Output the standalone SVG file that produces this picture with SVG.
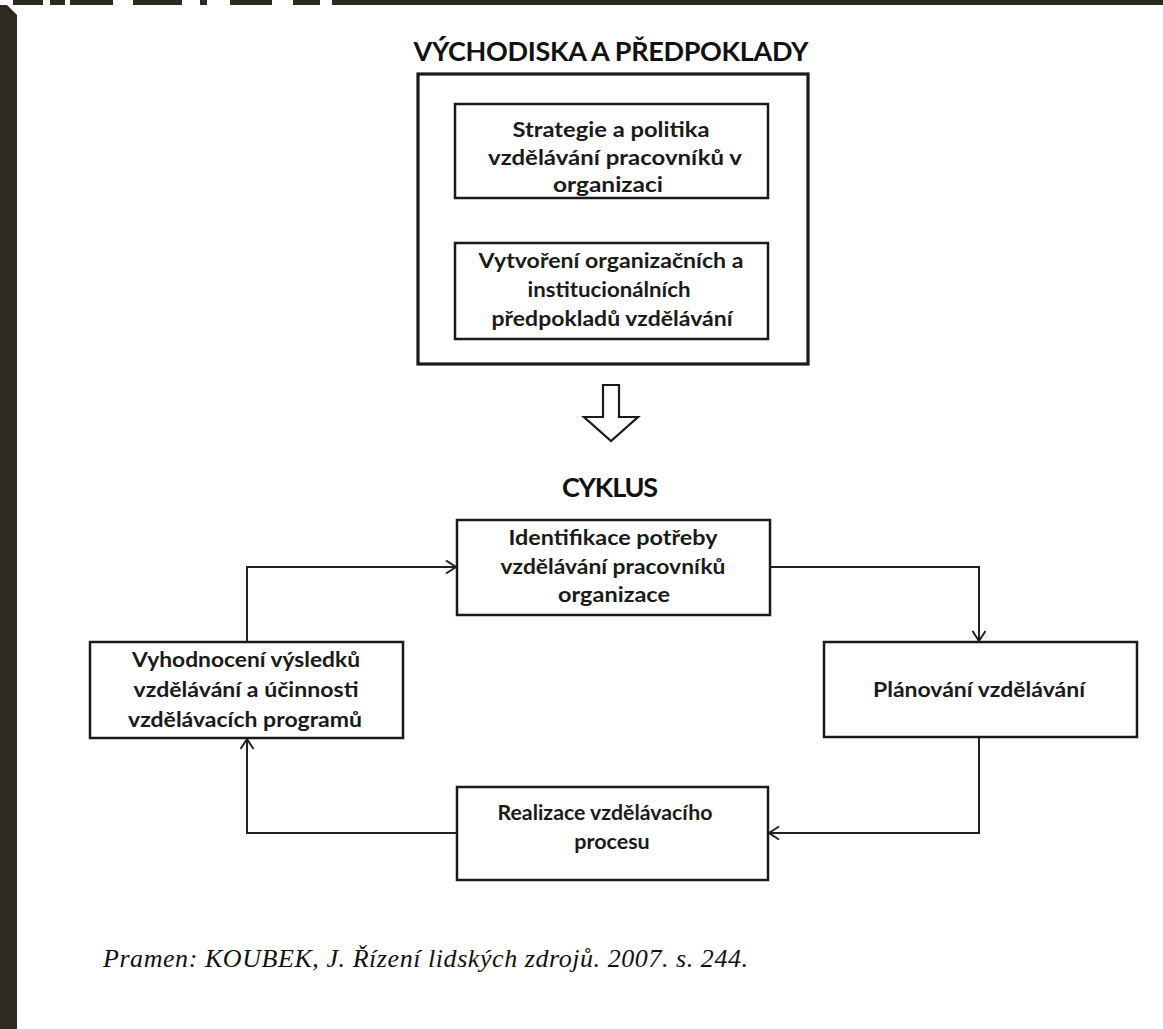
<svg xmlns="http://www.w3.org/2000/svg" width="1163" height="1029" viewBox="0 0 1163 1029">
<style>
.bg{fill:#2d2a1f}
.box{fill:#fff;stroke:#1a1a1a;stroke-width:2.5}
.outer{fill:#fff;stroke:#1a1a1a;stroke-width:3.2}
.t{font-family:Lato,"Open Sans","Liberation Sans",sans-serif;font-weight:bold;font-size:21.5px;fill:#1a1a1a;text-anchor:middle}
.h{font-family:Lato,"Open Sans","Liberation Sans",sans-serif;font-weight:bold;font-size:27px;fill:#111;text-anchor:middle}
.cap{font-family:"Liberation Serif","Times New Roman",serif;font-style:italic;font-size:26px;fill:#111}
.conn{fill:none;stroke:#222;stroke-width:2}
</style>
<defs>
<marker id="chev" markerUnits="userSpaceOnUse" markerWidth="16" markerHeight="16" refX="11" refY="7" orient="auto">
<path d="M1,0.5 L11,7 L1,13.5" fill="none" stroke="#222" stroke-width="2"/>
</marker>
</defs>
<rect width="1163" height="1029" fill="#fff"/>
<g id="frame">
<rect class="bg" x="0" y="0" width="1163" height="5"/>
<rect class="bg" x="0" y="15" width="17" height="1014"/>
<polygon class="bg" points="0,3 5,3 17,15 0,15"/>
<rect fill="#fff" x="0" y="0" width="13" height="5"/>
<rect fill="#fff" x="43" y="0" width="7" height="5"/>
<rect fill="#fff" x="65" y="0" width="5" height="5"/>
<rect fill="#fff" x="113" y="0" width="20" height="5"/>
<rect fill="#fff" x="182" y="0" width="18" height="5"/>
<rect fill="#fff" x="207" y="0" width="23" height="5"/>
<rect fill="#fff" x="272" y="0" width="21" height="5"/>
<rect fill="#fff" x="320" y="0" width="12" height="5"/>
</g>
<text class="h" x="611" y="61" textLength="395">VÝCHODISKA A PŘEDPOKLADY</text>
<g id="vychodiska">
<rect class="outer" x="418" y="74" width="390" height="290"/>
</g>
<g id="strategie">
<rect class="box" x="455" y="104" width="313" height="94"/>
<text class="t" x="611" y="137" textLength="197" lengthAdjust="spacingAndGlyphs">Strategie a politika</text>
<text class="t" x="615" y="165" textLength="254" lengthAdjust="spacingAndGlyphs">vzdělávání pracovníků v</text>
<text class="t" x="608" y="192" textLength="110" lengthAdjust="spacingAndGlyphs">organizaci</text>
</g>
<g id="vytvoreni">
<rect class="box" x="455" y="243" width="313" height="96"/>
<text class="t" x="611" y="268" textLength="265" lengthAdjust="spacingAndGlyphs">Vytvoření organizačních a</text>
<text class="t" x="609" y="297" textLength="163" lengthAdjust="spacingAndGlyphs">institucionálních</text>
<text class="t" x="612" y="326" textLength="241" lengthAdjust="spacingAndGlyphs">předpokladů vzdělávání</text>
</g>
<g id="sipka">
<polygon points="603,385 619,385 619,417 638,417 611,441 584,417 603,417" fill="#fff" stroke="#1a1a1a" stroke-width="2.2" stroke-linejoin="miter"/>
</g>
<text class="h" x="610" y="497" textLength="96">CYKLUS</text>
<g id="connectors">
<path class="conn" d="M247,642 V567 H456" marker-end="url(#chev)"/>
<path class="conn" d="M770,567 H979 V641" marker-end="url(#chev)"/>
<path class="conn" d="M979,737 V833 H769" marker-end="url(#chev)"/>
<path class="conn" d="M457,833 H247 V739" marker-end="url(#chev)"/>
</g>
<g id="identifikace">
<rect class="box" x="457" y="520" width="313" height="95"/>
<text class="t" x="613" y="545" textLength="209" lengthAdjust="spacingAndGlyphs">Identifikace potřeby</text>
<text class="t" x="613" y="574" textLength="225" lengthAdjust="spacingAndGlyphs">vzdělávání pracovníků</text>
<text class="t" x="614" y="602" textLength="112" lengthAdjust="spacingAndGlyphs">organizace</text>
</g>
<g id="planovani">
<rect class="box" x="824" y="642" width="313" height="95"/>
<text class="t" x="979" y="697" textLength="212" lengthAdjust="spacingAndGlyphs">Plánování vzdělávání</text>
</g>
<g id="realizace">
<rect class="box" x="457" y="787" width="311" height="93"/>
<text class="t" x="605" y="820" textLength="215" lengthAdjust="spacingAndGlyphs">Realizace vzdělávacího</text>
<text class="t" x="612" y="849">procesu</text>
</g>
<g id="vyhodnoceni">
<rect class="box" x="90" y="642" width="313" height="96"/>
<text class="t" x="246" y="667" textLength="228" lengthAdjust="spacingAndGlyphs">Vyhodnocení výsledků</text>
<text class="t" x="246" y="697" textLength="225" lengthAdjust="spacingAndGlyphs">vzdělávání a účinnosti</text>
<text class="t" x="245" y="727" textLength="234" lengthAdjust="spacingAndGlyphs">vzdělávacích programů</text>
</g>
<text class="cap" x="103" y="967" textLength="645">Pramen: KOUBEK, J. Řízení lidských zdrojů. 2007. s. 244.</text>
</svg>
